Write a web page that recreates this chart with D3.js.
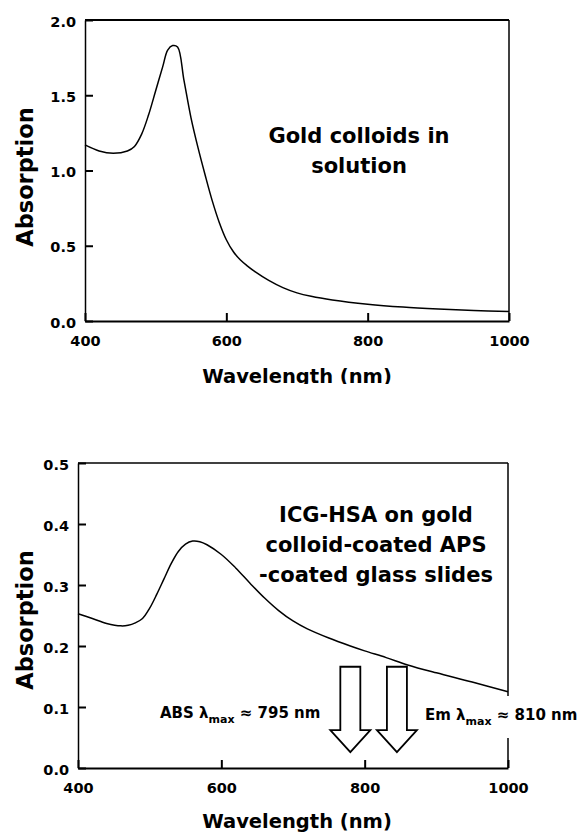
<!DOCTYPE html>
<html lang="en">
<head>
<meta charset="UTF-8">
<title>Gold colloid absorption spectra</title>
<script src="https://d3js.org/d3.v7.min.js"></script>
<style>
    body { margin: 0; background: #fff; }
    svg text { font-family: "DejaVu Sans", Arial, sans-serif; font-weight: bold; fill: #000; }
    .axis path, .axis line { stroke: #000; }
</style>
</head>
<body>
<svg id="chart" width="581" height="834"></svg>
<script>
    // top panel: gold colloids in solution
    const goldWavelength = [400, 420, 440, 460, 470, 480, 490, 500, 510, 517, 524, 531, 540, 550, 560, 570, 580, 590, 600, 610, 620, 630, 640, 660, 680, 700, 720, 750, 800, 850, 900, 950, 1000];
    const goldAbs        = [1.17, 1.13, 1.115, 1.13, 1.16, 1.24, 1.37, 1.53, 1.69, 1.80, 1.83, 1.82, 1.60, 1.35, 1.15, 0.97, 0.80, 0.655, 0.54, 0.46, 0.405, 0.365, 0.33, 0.27, 0.222, 0.187, 0.164, 0.14, 0.112, 0.093, 0.08, 0.07, 0.063];

    // bottom panel: ICG-HSA on gold colloid-coated slides
    const icgWavelength = [400, 420, 440, 460, 470, 480, 490, 500, 510, 520, 530, 540, 550, 560, 570, 580, 600, 620, 640, 660, 680, 700, 720, 750, 780, 800, 830, 860, 900, 950, 1000];
    const icgAbs        = [0.253, 0.245, 0.237, 0.233, 0.234, 0.238, 0.245, 0.262, 0.285, 0.31, 0.335, 0.355, 0.367, 0.372, 0.371, 0.366, 0.35, 0.328, 0.303, 0.279, 0.258, 0.241, 0.228, 0.213, 0.2, 0.192, 0.181, 0.169, 0.156, 0.141, 0.125];

    const xTicks = [400, 600, 800, 1000];
    const goldYTicks = [0, 0.5, 1.0, 1.5, 2.0];
    const icgYTicks = [0, 0.1, 0.2, 0.3, 0.4, 0.5];

    const goldLabel = ["Gold colloids in", "solution"];
    const icgLabel = ["ICG-HSA on gold", "colloid-coated APS", "-coated glass slides"];

    // arrows marking the excitation / emission maxima
    const arrowWavelength = [780, 845];
    const arrowTop = 0.166;
    const arrowTip = 0.026;

    const svg = d3.select("#chart");

    function drawPanel(cfg) {
        const x = d3.scaleLinear().domain([400, 1000]).range([cfg.left, cfg.right]);
        const y = d3.scaleLinear().domain(cfg.yDomain).range([cfg.bottom, cfg.top]);
        const g = svg.append("g");

        // frame: top and right
        g.append("line")
            .attr("x1", cfg.left).attr("x2", cfg.right)
            .attr("y1", cfg.top).attr("y2", cfg.top)
            .attr("stroke", "#000").attr("stroke-width", cfg.topWidth);
        g.append("line")
            .attr("x1", cfg.right).attr("x2", cfg.right)
            .attr("y1", cfg.top).attr("y2", cfg.bottom)
            .attr("stroke", "#000").attr("stroke-width", 1.5);

        g.append("g")
            .attr("class", "axis")
            .attr("transform", `translate(0,${cfg.bottom})`)
            .call(d3.axisBottom(x).tickValues(xTicks).tickFormat(d3.format("d")).tickSizeInner(-8).tickSizeOuter(0).tickPadding(15))
            .call(a => a.select(".domain").attr("stroke-width", 2))
            .call(a => a.selectAll(".tick line").attr("stroke-width", 2))
            .call(a => a.selectAll("text").style("font-size", "14.5px"));

        g.append("g")
            .attr("class", "axis")
            .attr("transform", `translate(${cfg.left},0)`)
            .call(d3.axisLeft(y).tickValues(cfg.yTicks).tickFormat(d3.format(".1f")).tickSizeInner(-8).tickSizeOuter(0).tickPadding(9))
            .call(a => a.select(".domain").attr("stroke-width", 1.5))
            .call(a => a.selectAll(".tick line").attr("stroke-width", 2))
            .call(a => a.selectAll("text").style("font-size", "14.5px").attr("dy", "0.42em"));

        const line = d3.line()
            .x((d, i) => x(cfg.xs[i]))
            .y(d => y(d))
            .curve(d3.curveCatmullRom.alpha(0.5));

        g.append("path")
            .datum(cfg.ys)
            .attr("fill", "none")
            .attr("stroke", "#000")
            .attr("stroke-width", 1.5)
            .attr("d", line);

        // axis titles
        g.append("text")
            .attr("transform", `translate(33,${cfg.yTitleY}) rotate(-90)`)
            .attr("text-anchor", "middle")
            .style("font-size", "22.5px")
            .text("Absorption");

        const xt = g.append("text")
            .attr("x", 297)
            .attr("y", cfg.xTitleY)
            .attr("text-anchor", "middle")
            .style("font-size", "19.5px")
            .text("Wavelength (nm)");
        if (cfg.clipTitle) {
            // the scan cuts the descenders of the top title
            svg.append("clipPath").attr("id", "titleClip")
                .append("rect").attr("x", 0).attr("y", 0).attr("width", 581).attr("height", cfg.xTitleY + 1);
            xt.attr("clip-path", "url(#titleClip)");
        }

        // annotation block
        g.append("text")
            .attr("text-anchor", "middle")
            .style("font-size", "21px")
            .selectAll("tspan")
            .data(cfg.label)
            .join("tspan")
            .attr("x", cfg.labelX)
            .attr("y", (d, i) => cfg.labelY + i * cfg.labelStep)
            .text(d => d);

        return { g, x, y };
    }

    drawPanel({
        left: 85, right: 509, top: 20, bottom: 321,
        yDomain: [0, 2], yTicks: goldYTicks,
        xs: goldWavelength, ys: goldAbs,
        topWidth: 2, yTitleY: 177, xTitleY: 383, clipTitle: true,
        label: goldLabel, labelX: 359, labelY: 143, labelStep: 30
    });

    const bottom = drawPanel({
        left: 78, right: 508, top: 463, bottom: 768,
        yDomain: [0, 0.5], yTicks: icgYTicks,
        xs: icgWavelength, ys: icgAbs,
        topWidth: 1.5, yTitleY: 620, xTitleY: 828, clipTitle: false,
        label: icgLabel, labelX: 376, labelY: 522, labelStep: 30
    });

    // hollow arrows
    const bx = bottom.x, by = bottom.y;
    const shaftHalf = 10, headHalf = 20, headLen = 22;
    bottom.g.selectAll(".arrow")
        .data(arrowWavelength)
        .join("path")
        .attr("class", "arrow")
        .attr("fill", "#fff")
        .attr("stroke", "#000")
        .attr("stroke-width", 1.8)
        .attr("stroke-linejoin", "miter")
        .attr("d", d => {
            const cx = bx(d), t = by(arrowTop), tip = by(arrowTip), hs = tip - headLen;
            return `M${cx - shaftHalf},${t}L${cx + shaftHalf},${t}L${cx + shaftHalf},${hs}L${cx + headHalf},${hs}` +
                   `L${cx},${tip}L${cx - headHalf},${hs}L${cx - shaftHalf},${hs}Z`;
        });

    // lambda max labels
    function lambdaLabel(xPos, yPos, prefix, value) {
        const t = bottom.g.append("text")
            .attr("x", xPos).attr("y", yPos)
            .style("font-size", "15px");
        t.append("tspan").text(prefix + " \u03bb");
        t.append("tspan").attr("dy", 5).style("font-size", "11px").text("max");
        t.append("tspan").attr("dy", -5).text(" \u2248 " + value + " nm");
        return t;
    }
    lambdaLabel(160, 718, "ABS", 795);
    const em = lambdaLabel(425, 720, "Em", 810);
    const bb = em.node().getBBox();
    // white gap in the right frame behind the Em label
    bottom.g.append("rect")
        .attr("x", bx(1000) - 3).attr("width", 6)
        .attr("y", bb.y - 10).attr("height", bb.height + 20)
        .attr("fill", "#fff");
    em.raise();
</script>
</body>
</html>
